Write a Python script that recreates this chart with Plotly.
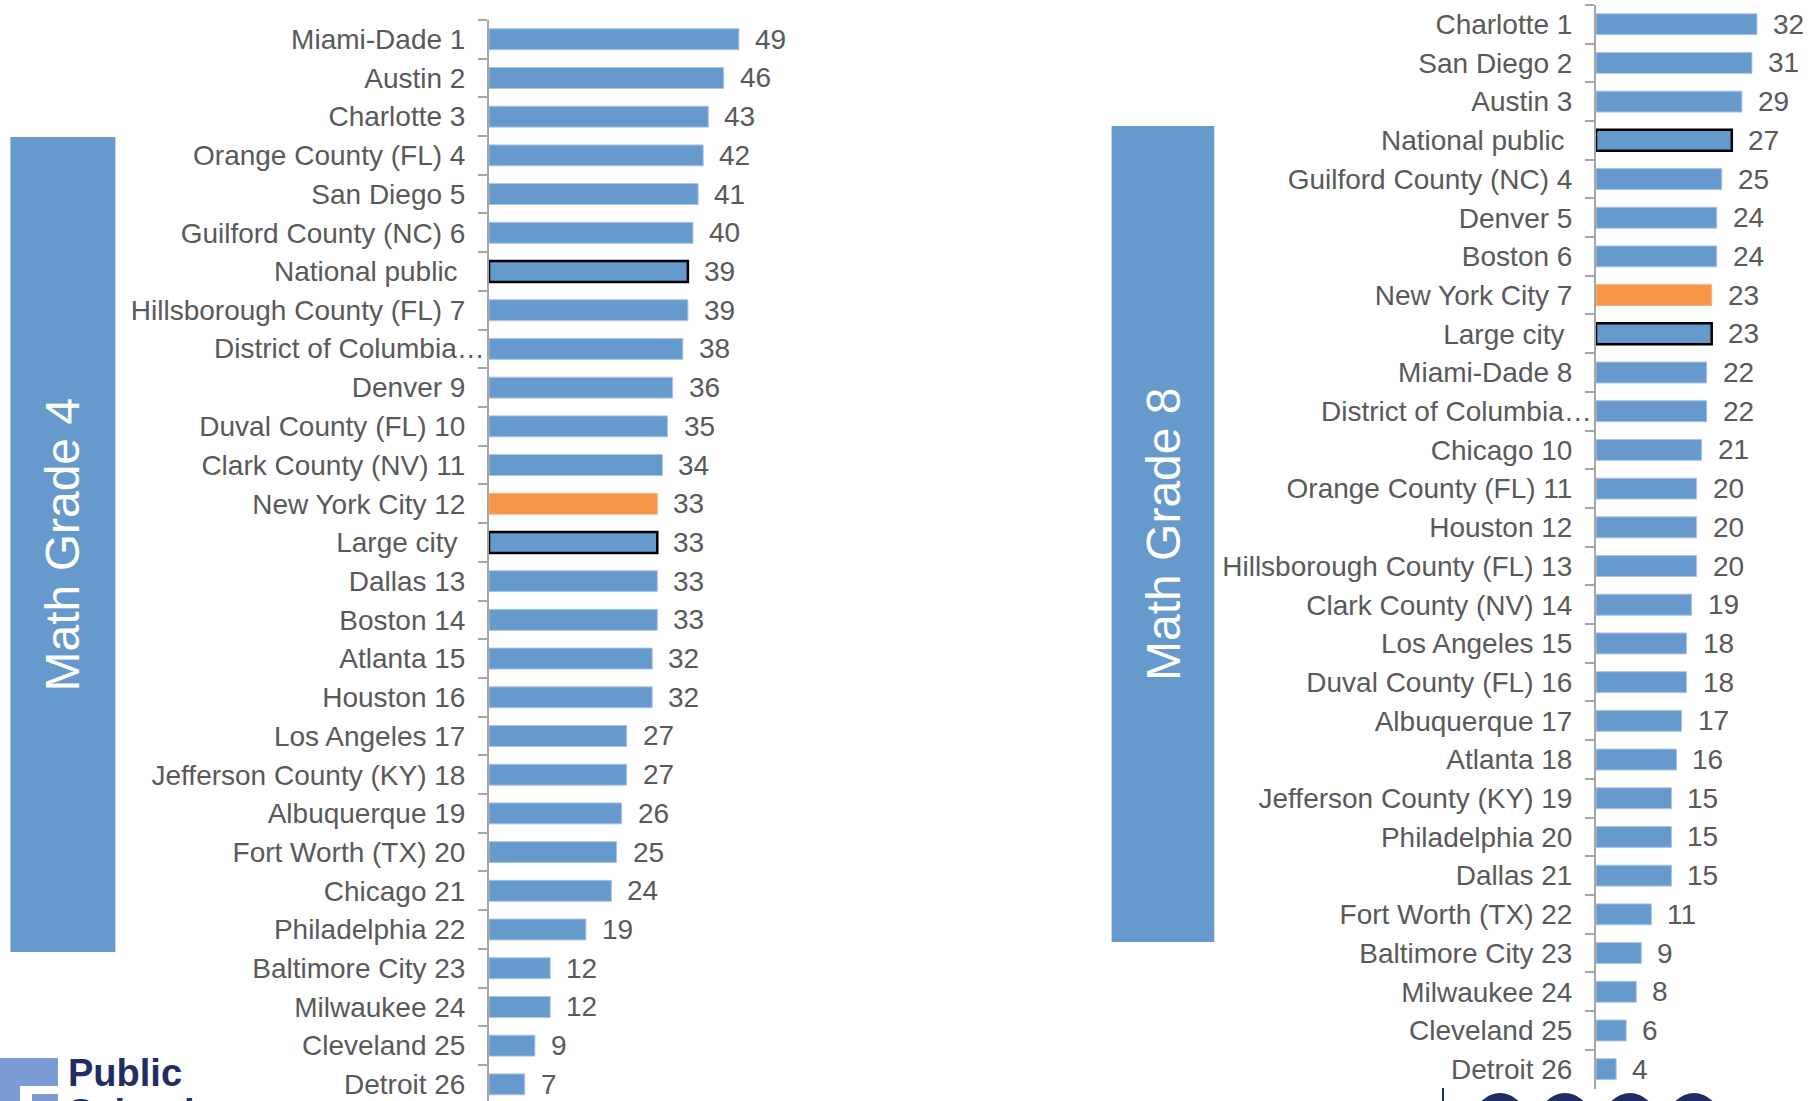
import plotly.graph_objects as go

W, H = 1810, 1101

# ---- data ----
names_g4 = ["Miami-Dade 1", "Austin 2", "Charlotte 3", "Orange County (FL) 4", "San Diego 5",
            "Guilford County (NC) 6", "National public\u00a0", "Hillsborough County (FL) 7",
            "District of Columbia\u2026", "Denver 9", "Duval County (FL) 10", "Clark County (NV) 11",
            "New York City 12", "Large city\u00a0", "Dallas 13", "Boston 14", "Atlanta 15",
            "Houston 16", "Los Angeles 17", "Jefferson County (KY) 18", "Albuquerque 19",
            "Fort Worth (TX) 20", "Chicago 21", "Philadelphia 22", "Baltimore City 23",
            "Milwaukee 24", "Cleveland 25", "Detroit 26"]
vals_g4 = [49, 46, 43, 42, 41, 40, 39, 39, 38, 36, 35, 34, 33, 33, 33, 33, 32, 32,
           27, 27, 26, 25, 24, 19, 12, 12, 9, 7]

names_g8 = ["Charlotte 1", "San Diego 2", "Austin 3", "National public\u00a0",
            "Guilford County (NC) 4", "Denver 5", "Boston 6", "New York City 7", "Large city\u00a0",
            "Miami-Dade 8", "District of Columbia\u2026", "Chicago 10", "Orange County (FL) 11",
            "Houston 12", "Hillsborough County (FL) 13", "Clark County (NV) 14", "Los Angeles 15",
            "Duval County (FL) 16", "Albuquerque 17", "Atlanta 18", "Jefferson County (KY) 19",
            "Philadelphia 20", "Dallas 21", "Fort Worth (TX) 22", "Baltimore City 23",
            "Milwaukee 24", "Cleveland 25", "Detroit 26"]
vals_g8 = [32, 31, 29, 27, 25, 24, 24, 23, 23, 22, 22, 21, 20, 20, 20, 19, 18, 18,
           17, 16, 15, 15, 15, 11, 9, 8, 6, 4]

panel_titles = ["Math Grade 4", "Math Grade 8"]
TRUNCATED = "District of Columbia\u2026"

# ---- styles ----
BLUE = "#6699CC"
ORANGE = "#F79646"
GRAY_TXT = "#595959"
AXIS_GRAY = "#A6A6A6"
NAVY = "#1F2D64"
FONT = "Liberation Sans, Arial, sans-serif"
FS = 28


def styles(names):
    fills, lcols, lwids = [], [], []
    for n in names:
        if n.startswith("New York City"):
            fills.append(ORANGE); lcols.append("#F9B27A"); lwids.append(1)
        elif n.startswith("National public") or n.startswith("Large city"):
            fills.append(BLUE); lcols.append("#000000"); lwids.append(2.5)
        else:
            fills.append(BLUE); lcols.append("#A9C4E6"); lwids.append(1)
    return fills, lcols, lwids


fig = go.Figure()
annotations = []
for idx, (names, vals, xa, ya) in enumerate([(names_g4, vals_g4, "x", "y"),
                                             (names_g8, vals_g8, "x2", "y2")]):
    f, lc, lw = styles(names)
    fig.add_trace(go.Bar(x=vals, y=names, orientation="h", xaxis=xa, yaxis=ya,
                         marker=dict(color=f, line=dict(color=lc, width=lw)),
                         hoverinfo="x+y", showlegend=False))
    for n, v in zip(names, vals):
        annotations.append(dict(x=v, y=n, xref=xa, yref=ya, text=str(v), showarrow=False,
                                xanchor="left", yanchor="middle", xshift=14,
                                font=dict(family=FONT, size=FS, color=GRAY_TXT)))
        if n == TRUNCATED:
            # truncated label whose ellipsis runs up to the axis line
            annotations.append(dict(x=0, y=n, xref=xa, yref=ya, text=n, showarrow=False,
                                    xanchor="right", yanchor="middle", xshift=-2,
                                    font=dict(family=FONT, size=FS, color=GRAY_TXT)))

yax_common = dict(type="category", ticks="outside", ticklen=9, tickwidth=2, tickcolor=AXIS_GRAY,
                  tickson="boundaries", showline=True, linecolor=AXIS_GRAY, linewidth=2,
                  showgrid=False, zeroline=False, fixedrange=True,
                  tickfont=dict(family=FONT, size=FS, color=GRAY_TXT), ticklabelstandoff=16)
xax_common = dict(showticklabels=False, showgrid=False, zeroline=False, showline=False,
                  ticks="", fixedrange=True)

left_x0 = 489 / W
left_x1 = (489 + 60 * 5.1) / W
right_x0 = 1596 / W
right_x1 = 1.0
right_range = (W - 1596) / 5.03

fig.update_layout(
    width=W, height=H, margin=dict(l=0, r=0, t=0, b=0),
    paper_bgcolor="white", plot_bgcolor="white", bargap=0.46,
    xaxis=dict(domain=[left_x0, left_x1], range=[0, 60], anchor="y", **xax_common),
    yaxis=dict(domain=[0, 1 - 19.9 / H], range=[27.43, -0.5], anchor="x",
               categoryorder="array", categoryarray=names_g4,
               tickvals=names_g4, ticktext=["" if n == TRUNCATED else n for n in names_g4],
               **yax_common),
    xaxis2=dict(domain=[right_x0, right_x1], range=[0, right_range], anchor="y2", **xax_common),
    yaxis2=dict(domain=[1 - 1088.5 / H, 1 - 4.85 / H], range=[27.5, -0.5], anchor="x2",
                categoryorder="array", categoryarray=names_g8,
                tickvals=names_g8, ticktext=["" if n == TRUNCATED else n for n in names_g8],
                **yax_common),
    font=dict(family=FONT),
)

# panel title boxes
shapes = []
boxes = [(10.4, 137, 115.4, 952), (1111.6, 126, 1214.3, 942)]
for (x0, y0, x1, y1), title in zip(boxes, panel_titles):
    shapes.append(dict(type="rect", xref="paper", yref="paper",
                       x0=x0 / W, x1=x1 / W, y0=1 - y1 / H, y1=1 - y0 / H,
                       fillcolor=BLUE, line=dict(width=0), layer="below"))
    annotations.append(dict(x=(x0 + x1) / 2 / W, y=1 - ((y0 + y1) / 2) / H, xref="paper", yref="paper",
                            text=title, textangle=-90, showarrow=False,
                            xanchor="center", yanchor="middle",
                            font=dict(family=FONT, size=48, color="white")))

# partial logo bottom-left
shapes.append(dict(type="path", xref="paper", yref="paper",
                   path=("M 0 {a} L {b} {a} L {b} {c} L {d} {c} L {d} {e} L 0 {e} Z").format(
                       a=1 - 1058 / H, b=58 / W, c=1 - 1086 / H, d=20 / W, e=0),
                   fillcolor="#7A9CD3", line=dict(width=0)))
shapes.append(dict(type="rect", xref="paper", yref="paper", x0=32 / W, x1=58 / W,
                   y0=0, y1=1 - 1094 / H, fillcolor="#7A9CD3", line=dict(width=0)))
annotations.append(dict(x=66 / W, y=1 - 1050 / H, xref="paper", yref="paper", text="<b>Public</b>",
                        showarrow=False, xanchor="left", yanchor="top",
                        font=dict(family=FONT, size=38, color=NAVY)))
annotations.append(dict(x=66 / W, y=1 - 1090 / H, xref="paper", yref="paper", text="<b>Schools</b>",
                        showarrow=False, xanchor="left", yanchor="top",
                        font=dict(family=FONT, size=38, color=NAVY)))

# partial logo bottom-right
shapes.append(dict(type="line", xref="paper", yref="paper", x0=1443 / W, x1=1443 / W,
                   y0=0, y1=1 - 1088 / H, line=dict(color=NAVY, width=2)))
for cx in [1500, 1565, 1630, 1694]:
    shapes.append(dict(type="circle", xref="paper", yref="paper",
                       x0=(cx - 25) / W, x1=(cx + 25) / W, y0=1 - 1143 / H, y1=1 - 1093 / H,
                       fillcolor=NAVY, line=dict(width=0)))

fig.update_layout(shapes=shapes, annotations=annotations)
fig.write_html("out.html", config={"displayModeBar": False},
               post_script="document.body.style.margin='0';document.body.style.overflow='hidden';")
